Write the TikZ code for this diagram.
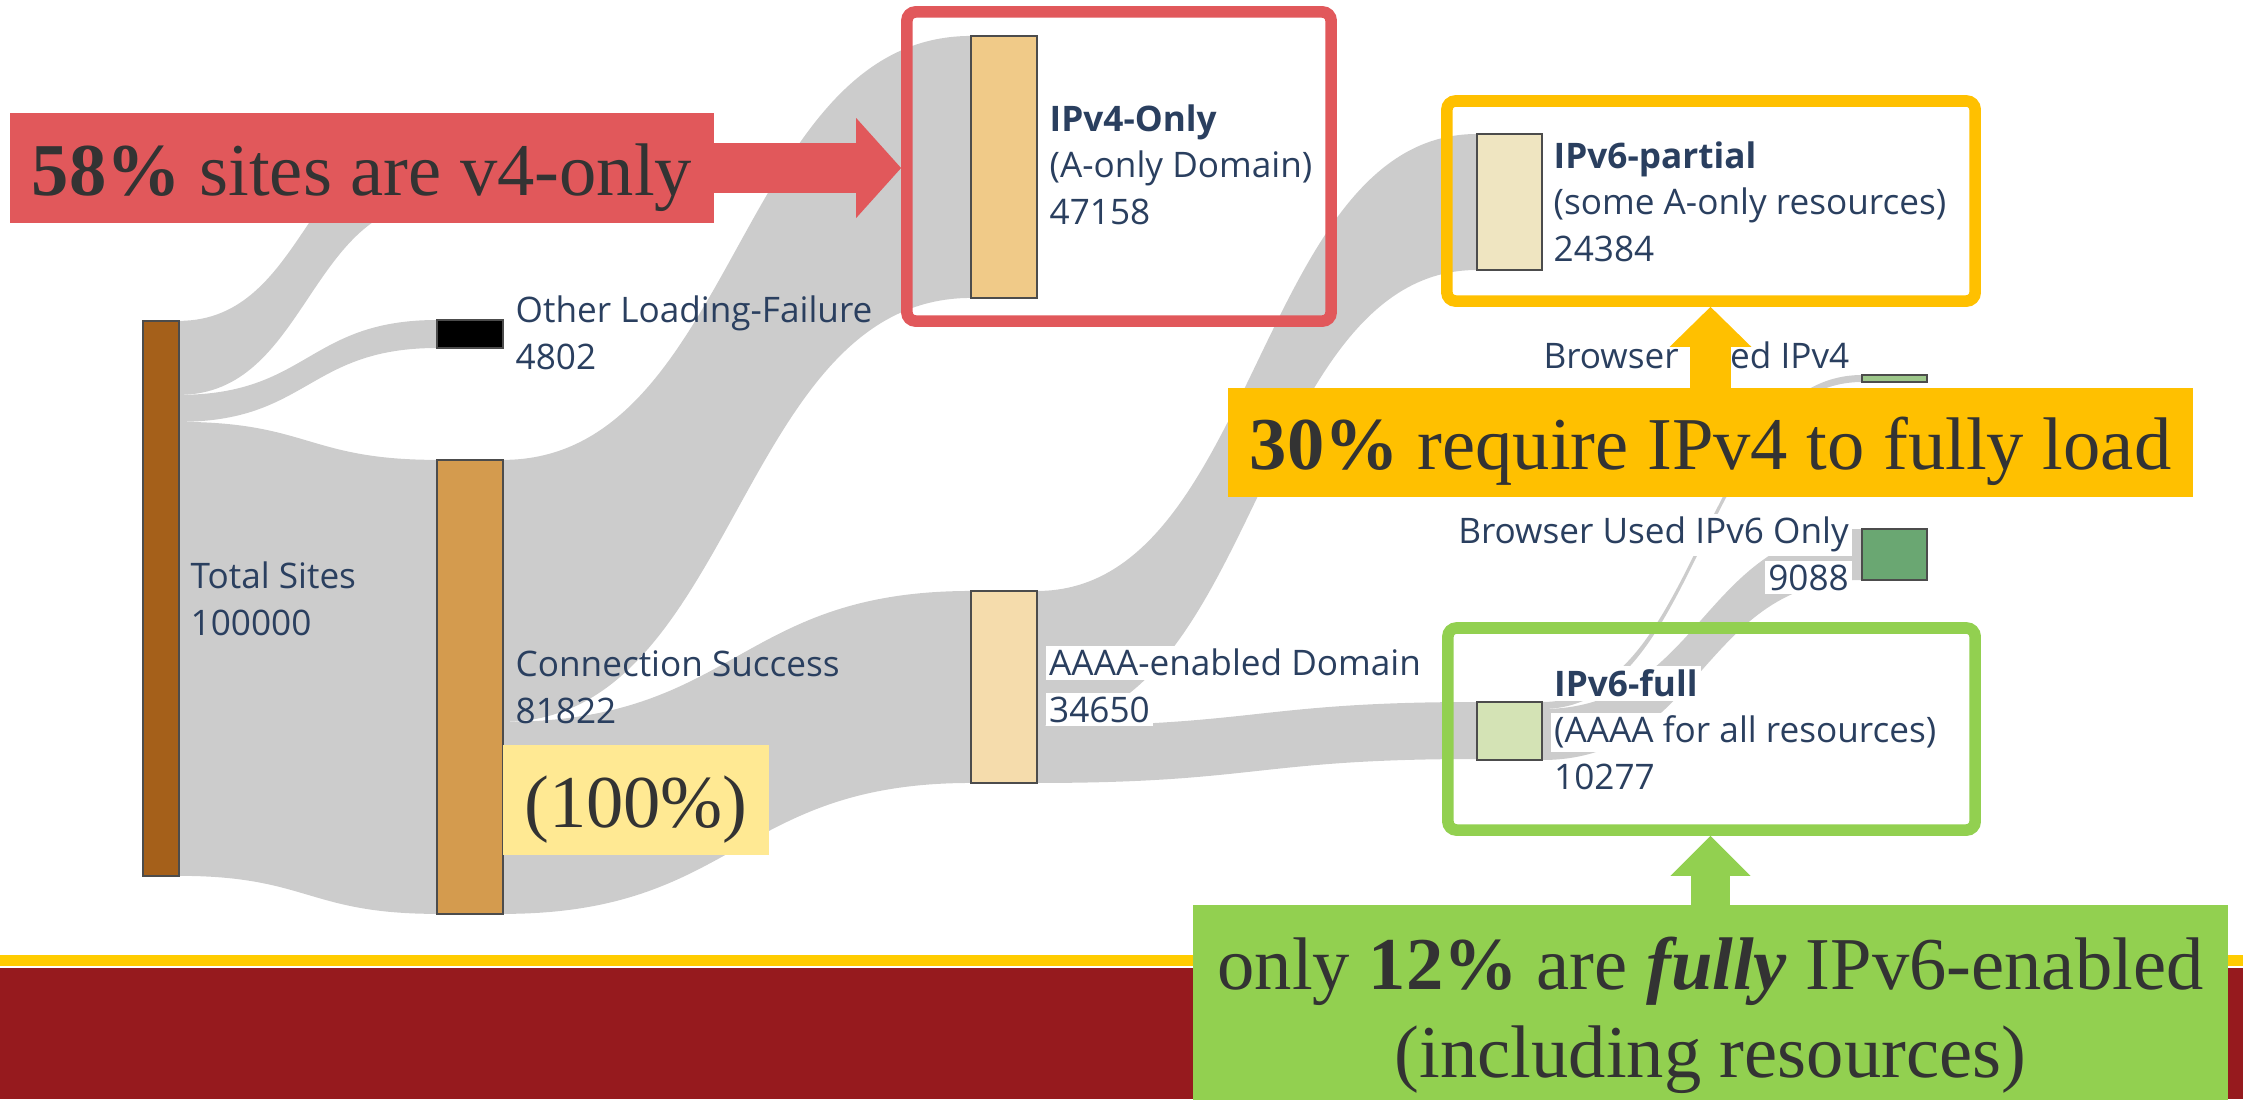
\documentclass[tikz,border=0pt]{standalone}
\usepackage{fontspec}
\setmainfont{Liberation Serif}
\newfontfamily\plotfont{Open Sans}
\usetikzlibrary{calc,arrows.meta}

\definecolor{flowgray}{HTML}{CCCCCC}
\definecolor{labelblue}{HTML}{2A3F5F}
\definecolor{totalc}{HTML}{A5601A}
\definecolor{connc}{HTML}{D49B4E}
\definecolor{vfourc}{HTML}{F0CA88}
\definecolor{aaaac}{HTML}{F5DCAC}
\definecolor{partc}{HTML}{EFE5C1}
\definecolor{fullc}{HTML}{D4E3B5}
\definecolor{usedfourc}{HTML}{9DC78A}
\definecolor{usedsixc}{HTML}{6AA772}
\definecolor{notered}{HTML}{E1585B}
\definecolor{noteyellow}{HTML}{FFC000}
\definecolor{notegreen}{HTML}{92D050}
\definecolor{notepale}{HTML}{FFE993}
\definecolor{inktext}{HTML}{333333}
\definecolor{footred}{HTML}{961A1E}
\definecolor{footgold}{HTML}{FFCC00}

% white backing behind a label line
\newcommand{\halo}[1]{{\setlength{\fboxsep}{1pt}\colorbox{white}{#1}}}

% band: source, top/bottom offset there, target, top/bottom offset there, handle length
\newcommand{\band}[7]{%
\fill[flowgray] ($(#1.north east)+(0,#2)$) .. controls +(#7,0) and +(-#7,0) .. ($(#4.north west)+(0,#5)$)
  -- ($(#4.north west)+(0,#6)$) .. controls +(-#7,0) and +(#7,0) .. ($(#1.north east)+(0,#3)$) -- cycle;}

\begin{document}
\begin{tikzpicture}[x=0.01cm,y=-0.01cm,
  bar/.style={draw=black!70, line width=0.5pt, inner sep=0pt, outer sep=0pt, minimum width=0.66cm},
  sankeylabel/.style={font=\plotfont\fontsize{10}{13.1}\selectfont, text=labelblue, align=left, inner sep=0pt, anchor=base west},
  hlbox/.style={draw=#1, line width=3.3pt, rounded corners=2.5pt, inner sep=0pt},
  notebox/.style={fill=#1, font=\fontsize{21.2}{25}\selectfont, text=inktext, inner sep=0pt, outer sep=0pt},
  lowbase/.style={text height=15.5pt, text depth=0pt},
  fatarrow/.style n args={4}{draw=#1, line width=#2, -{Triangle[length=#3, width=#4, line width=0pt]}}]
\useasboundingbox (0,0) rectangle (2243,1099);

% footer stripes
\fill[footgold] (0,955) rectangle (2243,966);
\fill[footred] (0,968) rectangle (2243,1099);

% bars
\node[bar, fill=totalc, minimum width=0.36cm, minimum height=5.55cm] (total) at (161,598.5) {};
\node[bar, draw=none, minimum height=0.74cm] (lost) at (470,165) {};
\node[bar, fill=black, minimum height=0.28cm] (fail) at (470,334) {};
\node[bar, fill=connc, minimum height=4.54cm] (conn) at (470,687) {};
\node[bar, fill=vfourc, minimum height=2.62cm] (vfour) at (1004,167) {};
\node[bar, fill=aaaac, minimum height=1.92cm] (aaaa) at (1004,687) {};
\node[bar, fill=partc, minimum width=0.65cm, minimum height=1.36cm] (partial) at (1509.5,202) {};
\node[bar, fill=fullc, minimum width=0.65cm, minimum height=0.58cm] (full) at (1509.5,731) {};
\node[bar, fill=usedfourc, minimum width=0.65cm, minimum height=0.07cm] (usedfour) at (1894.5,378.5) {};
\node[bar, fill=usedsixc, minimum width=0.65cm, minimum height=0.51cm] (usedsix) at (1894.5,554.5) {};

% flows
\band{total}{0}{74}{lost}{0}{74}{129}
\band{total}{74}{101}{fail}{0}{28}{129}
\band{total}{101}{555}{conn}{0}{454}{129}
\band{conn}{0}{262}{vfour}{0}{262}{234}
\band{conn}{262}{454}{aaaa}{0}{192}{234}
\band{aaaa}{0}{135}{partial}{0}{136}{220}
\band{aaaa}{135}{192}{full}{0}{57}{220}
\band{full}{0}{7}{usedfour}{0}{7}{160}
\band{full}{7}{58}{usedsix}{0}{51}{160}

% redraw bars over the flows
\foreach \b in {total,fail,conn,vfour,aaaa,partial,full,usedfour,usedsix}
  \draw[black!70, line width=0.5pt] (\b.north west) rectangle (\b.south east);

% labels (anchored on the last line)
\node[sankeylabel] (totallbl) at (190,635) {Total Sites\\100000};
\node[sankeylabel] (faillbl) at (515,369) {Other Loading-Failure\\4802};
\node[sankeylabel] (connlbl) at (515,723) {Connection Success\\81822};
\node[sankeylabel] (vfourlbl) at (1049,224) {\textbf{IPv4-Only}\\(A-only Domain)\\47158};
\node[sankeylabel] (aaaalbl) at (1045,722) {\halo{AAAA-enabled Domain}\\\halo{34650}};
\node[sankeylabel] (partlbl) at (1553,261) {\textbf{IPv6-partial}\\(some A-only resources)\\24384};
\node[sankeylabel] (fulllbl) at (1550,789) {\halo{\textbf{IPv6-full}}\\\halo{(AAAA for all resources)}\\\halo{10277}};
\node[sankeylabel, anchor=base east, align=right] (usedfourlbl) at (1850,368) {Browser Used IPv4};
\node[sankeylabel, anchor=base east, align=right] (usedsixlbl) at (1853,590) {\halo{Browser Used IPv6 Only}\\\halo{9088}};

% highlight frames
\node[hlbox=notered, minimum width=4.24cm, minimum height=3.09cm] (vfourbox) at (1119,166.5) {};
\node[hlbox=noteyellow, minimum width=5.28cm, minimum height=2.00cm] (partbox) at (1711,201) {};
\node[hlbox=notegreen, minimum width=5.27cm, minimum height=2.02cm] (fullbox) at (1711.5,729) {};

% call-outs
\node[notebox=notered, lowbase, minimum width=7.04cm, minimum height=1.10cm] (vfournote) at (362,168) {\textbf{58\%} sites are v4-only};
\node[notebox=notepale, lowbase, minimum width=2.66cm, minimum height=1.10cm] (pctnote) at (636,800) {(100\%)};
\node[notebox=noteyellow, lowbase, minimum width=9.65cm, minimum height=1.09cm] (partnote) at (1710.5,442.5) {\textbf{30\%} require IPv4 to fully load};
\node[notebox=notegreen, align=center, minimum width=10.35cm, minimum height=2.2cm] (fullnote) at (1710.5,1015) {only \textbf{12\%} are \textbf{\textit{fully}} IPv6-enabled\\(including resources)};

\draw[fatarrow={notered}{14.2pt}{12.8pt}{28.5pt}] (vfournote.east) -- (vfournote.east -| vfourbox.west);
\draw[fatarrow={noteyellow}{11.7pt}{11.4pt}{23.3pt}] (partnote.north) -- (partnote.north |- partbox.south);
\draw[fatarrow={notegreen}{11.1pt}{11.4pt}{22.8pt}] (fullnote.north) -- (fullnote.north |- fullbox.south);

\end{tikzpicture}
\end{document}
